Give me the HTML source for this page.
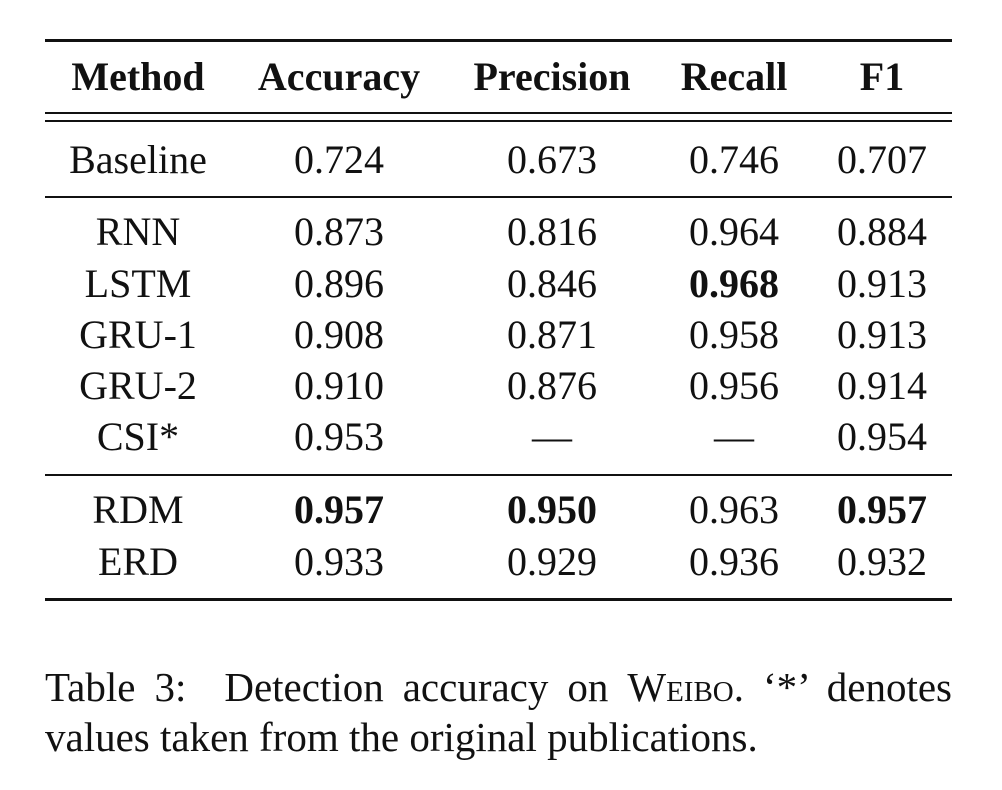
<!DOCTYPE html>
<html>
<head>
<meta charset="utf-8">
<style>
  body{margin:0;background:#fff;}
  #page{position:relative;width:1002px;height:790px;background:#fff;font-family:"Liberation Serif",serif;color:#111;overflow:hidden;}
  .rule{position:absolute;left:45px;width:907px;background:#111;}
  .cell{position:absolute;height:44px;line-height:44px;font-size:40px;text-align:center;white-space:nowrap;}
  .hdr{font-weight:bold;}
  .b{font-weight:bold;}
  .cap{position:absolute;left:45px;width:907px;font-size:41px;line-height:46px;white-space:nowrap;}
  .sc{font-variant:small-caps;}
</style>
</head>
<body>
<div id="page">
  <div class="rule" style="top:39px;height:3px"></div>
  <div class="rule" style="top:112px;height:2px"></div>
  <div class="rule" style="top:120px;height:2px"></div>
  <div class="rule" style="top:196px;height:2px"></div>
  <div class="rule" style="top:474px;height:2px"></div>
  <div class="rule" style="top:598px;height:3px"></div>
  <div id="rows"></div>
  <div class="cap" style="top:664px;text-align:justify;text-align-last:justify">Table 3:&nbsp; Detection accuracy on <span class="sc">Weibo</span>. ‘*’ denotes</div>
  <div class="cap" style="top:714px">values taken from the original publications.</div>
</div>
<script>
const columns = ["Method","Accuracy","Precision","Recall","F1"];
const methods = ["Baseline","RNN","LSTM","GRU-1","GRU-2","CSI*","RDM","ERD"];
const accuracy = ["0.724","0.873","0.896","0.908","0.910","0.953","0.957","0.933"];
const precision = ["0.673","0.816","0.846","0.871","0.876","—","0.950","0.929"];
const recall = ["0.746","0.964","0.968","0.958","0.956","—","0.963","0.936"];
const f1 = ["0.707","0.884","0.913","0.913","0.914","0.954","0.957","0.932"];
const boldCells = ["2-3","6-1","6-2","6-4"];
const colX = [138,339,552,734,882];
const rowY = [160,232,284,335,386,437,510,562];
const headerY = 77;
const root = document.getElementById('rows');
function addCell(text, cx, cy, cls, name){
  const d = document.createElement('div');
  d.className = 'cell ' + cls;
  d.textContent = text;
  d.style.left = (cx - 120) + 'px';
  d.style.width = '240px';
  d.style.top = (cy - 22) + 'px';
  
  
  root.appendChild(d);
}
columns.forEach((c,i)=>addCell(c, colX[i], headerY, 'hdr', 'header-' + c.toLowerCase()));
const cols = [methods, accuracy, precision, recall, f1];
methods.forEach((m,r)=>{
  cols.forEach((arr,c)=>{
    const bold = boldCells.indexOf(r + '-' + c) >= 0 ? 'b' : '';
    addCell(arr[r], colX[c], rowY[r], bold, 'cell-' + m.toLowerCase().replace(/[^a-z0-9]+/g,'') + '-' + columns[c].toLowerCase());
  });
});
</script>
</body>
</html>
